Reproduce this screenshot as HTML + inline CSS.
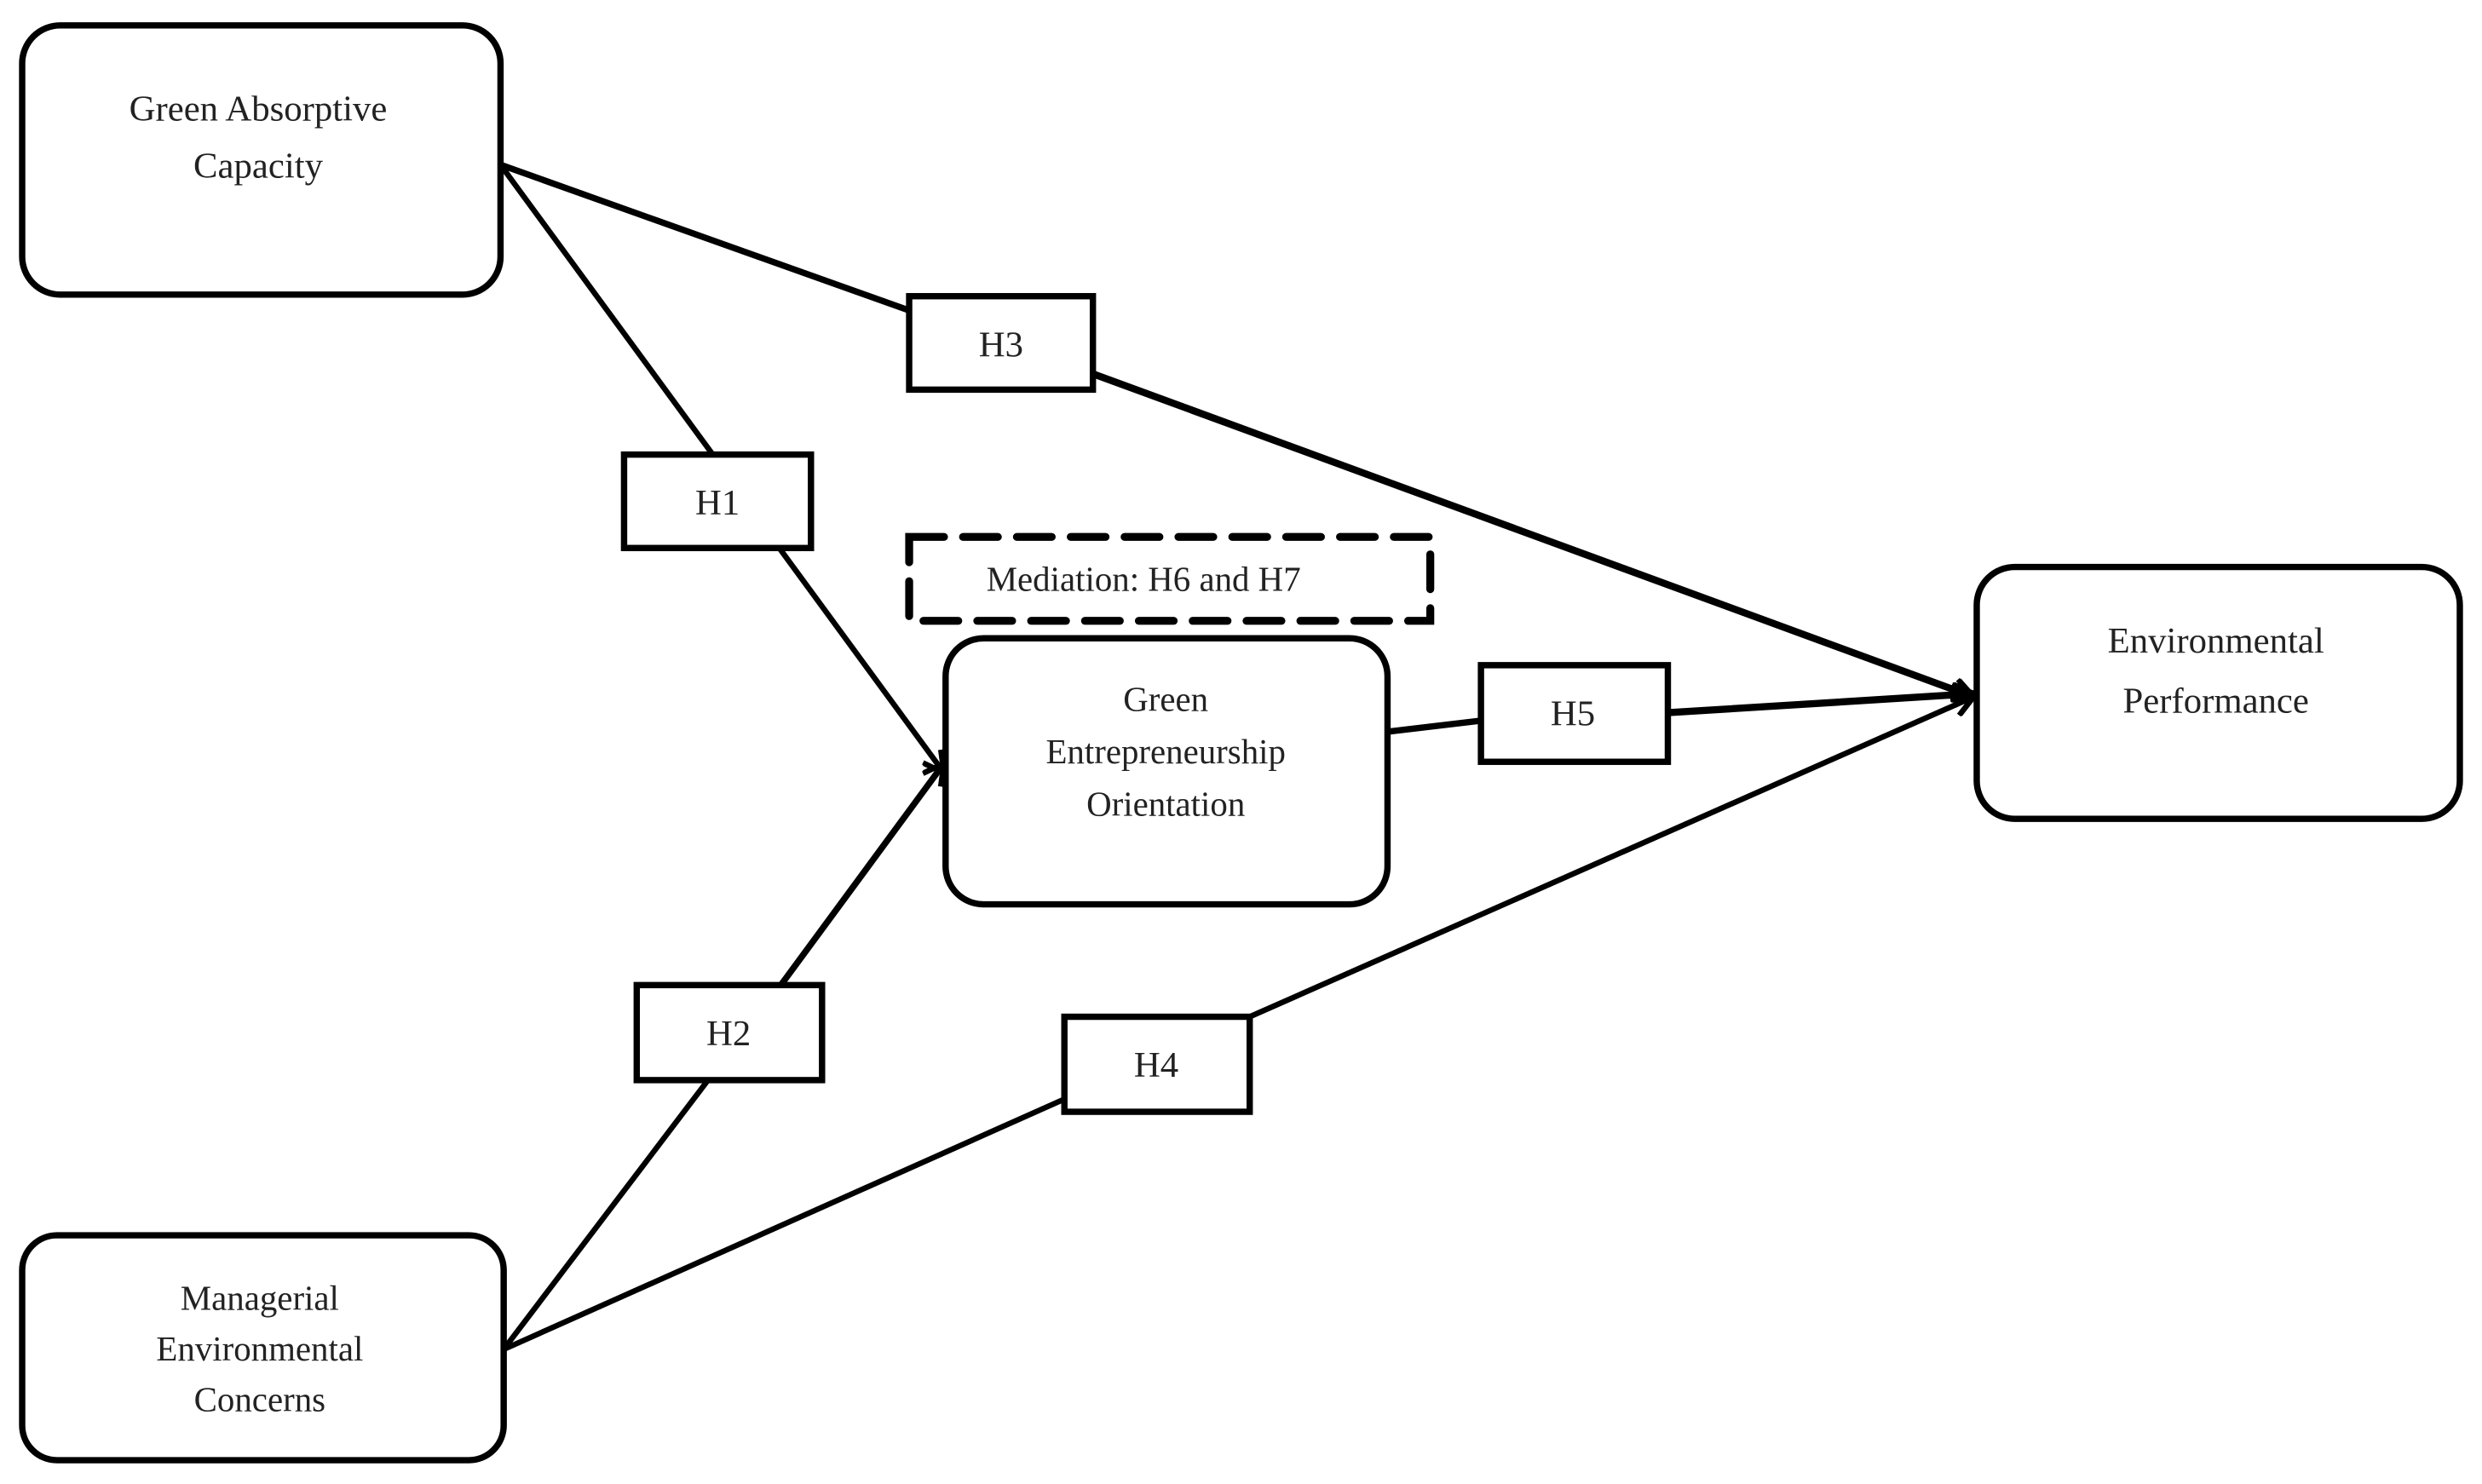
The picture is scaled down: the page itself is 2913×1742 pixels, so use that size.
<!DOCTYPE html>
<html><head><meta charset="utf-8"><style>
html,body{margin:0;padding:0;background:#fff;}
svg{display:block;}
text{font-family:"Liberation Serif",serif;fill:#222;text-anchor:middle;}
</style></head><body>
<svg width="2913" height="1742" viewBox="0 0 1567 937" xmlns="http://www.w3.org/2000/svg">
<defs>
<marker id="a" markerWidth="8" markerHeight="8" refX="7" refY="4" orient="auto" markerUnits="userSpaceOnUse">
<path d="M0,0 L8,4 L0,8" fill="none" stroke="#000" stroke-width="3"/>
</marker>
<marker id="b" markerWidth="16" markerHeight="16" refX="14" refY="8" orient="auto" markerUnits="userSpaceOnUse">
<path d="M1,1 L14,8 L1,15" fill="none" stroke="#000" stroke-width="3.5"/>
</marker>
</defs>
<g stroke="#000" fill="none" stroke-linecap="round">
<!-- lines -->
<line x1="316" y1="104" x2="574" y2="196" stroke-width="4"/>
<line x1="690" y1="236" x2="1246" y2="440" stroke-width="4.5" marker-end="url(#b)"/>
<line x1="316" y1="104" x2="450" y2="287" stroke-width="3.5"/>
<line x1="492" y1="346" x2="596" y2="488" stroke-width="3.5" marker-end="url(#b)"/>
<line x1="318" y1="852" x2="447" y2="682" stroke-width="3.5"/>
<line x1="493" y1="622" x2="596" y2="482" stroke-width="4" marker-end="url(#b)"/>
<line x1="318" y1="852" x2="672" y2="694" stroke-width="3.5"/>
<line x1="789" y1="642" x2="1246" y2="440" stroke-width="3.5" marker-end="url(#b)"/>
<line x1="876" y1="462" x2="935" y2="455" stroke-width="4"/>
<line x1="1053" y1="450" x2="1246" y2="438" stroke-width="4.5" marker-end="url(#b)"/>
<!-- boxes -->
<rect x="14" y="16" width="302" height="170" rx="24" stroke-width="4" fill="#fff"/>
<rect x="14" y="780" width="304" height="142" rx="22" stroke-width="4" fill="#fff"/>
<rect x="597" y="403" width="279" height="168" rx="24" stroke-width="4" fill="#fff"/>
<rect x="1248" y="358" width="305" height="159" rx="24" stroke-width="4" fill="#fff"/>
<rect x="574" y="187" width="116" height="59" stroke-width="4" fill="#fff"/>
<rect x="394" y="287" width="118" height="59" stroke-width="4" fill="#fff"/>
<rect x="935" y="420" width="118" height="61" stroke-width="4" fill="#fff"/>
<rect x="402" y="622" width="117" height="60" stroke-width="4" fill="#fff"/>
<rect x="672" y="642" width="117" height="60" stroke-width="4" fill="#fff"/>
<rect x="574" y="339" width="329" height="53" stroke-width="5" stroke-dasharray="22,12"/>
</g>
<g font-size="23">
<text x="163" y="76">Green Absorptive</text>
<text x="163" y="112">Capacity</text>
<text x="632" y="225">H3</text>
<text x="453" y="325">H1</text>
<text x="722" y="373" font-size="22">Mediation: H6 and H7</text>
<text x="736" y="449" font-size="22">Green</text>
<text x="736" y="482" font-size="22">Entrepreneurship</text>
<text x="736" y="515" font-size="22">Orientation</text>
<text x="993" y="458">H5</text>
<text x="1399" y="412">Environmental</text>
<text x="1399" y="450">Performance</text>
<text x="460" y="660">H2</text>
<text x="730" y="680">H4</text>
<text x="164" y="827" font-size="22">Managerial</text>
<text x="164" y="859" font-size="22">Environmental</text>
<text x="164" y="891" font-size="22">Concerns</text>
</g>
</svg>
</body></html>
